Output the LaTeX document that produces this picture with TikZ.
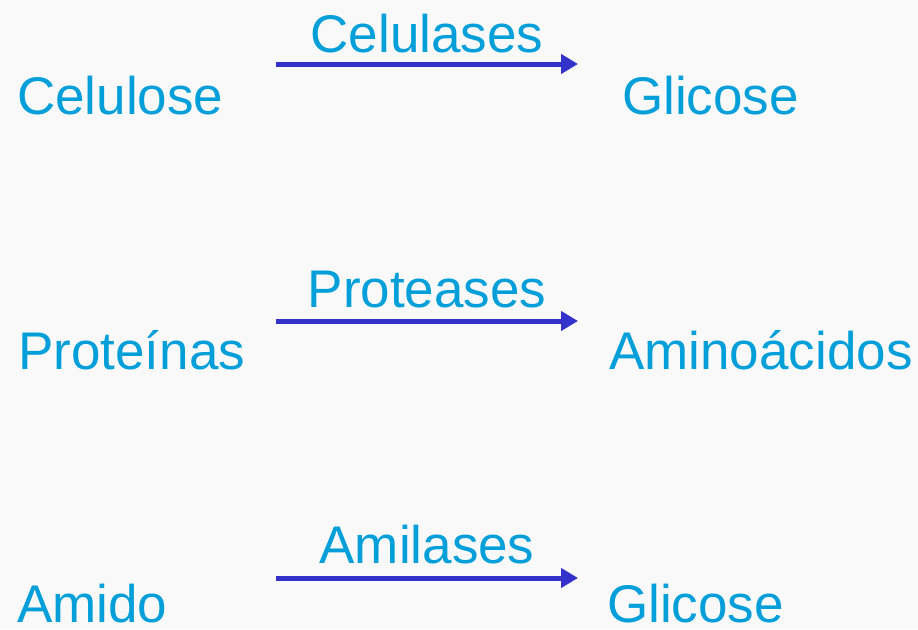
\documentclass[tikz,border=0pt]{standalone}
\usepackage{fontspec}
\setmainfont{Liberation Sans}
\usetikzlibrary{arrows.meta}

\definecolor{termblue}{HTML}{009FDA}
\definecolor{arrowblue}{HTML}{3333CC}
\definecolor{paper}{HTML}{F9F9F9}

\tikzset{
    term/.style={anchor=base west, inner sep=0pt, text=termblue,
        font=\fontsize{53}{60}\selectfont},
    enzyme/.style={anchor=base, inner sep=0pt, text=termblue,
        font=\fontsize{53}{60}\selectfont},
    reaction/.style={draw=arrowblue, line width=5pt,
        -{Triangle[length=17pt,width=19pt]}}
}

\begin{document}
\begin{tikzpicture}[x=1pt,y=-1pt]
    \fill [paper] (0, 0) rectangle (918, 629);
    \useasboundingbox (0, 0) rectangle (918, 629);

    \path (17, 114) node [term] (cel) {Celulose};
    \path (622, 114) node [term] (gli1) {Glicose};
    \coordinate (r1s) at (276, 64);
    \coordinate (r1e) at (578, 64);
    \draw [reaction] (r1s) -- (r1e)
	node[midway,enzyme,yshift=12pt] (cls) {Celulases};

    \path (18, 369) node [term] (pro) {Proteínas};
    \path (609, 369) node [term] (ami) {Aminoácidos};
    \coordinate (r2s) at (276, 321);
    \coordinate (r2e) at (578, 321);
    \draw [reaction] (r2s) -- (r2e)
	node[midway,enzyme,yshift=14pt] (prt) {Proteases};

    \path (17, 622) node [term] (amd) {Amido};
    \path (607, 622) node [term] (gli2) {Glicose};
    \coordinate (r3s) at (276, 578);
    \coordinate (r3e) at (578, 578);
    \draw [reaction] (r3s) -- (r3e)
	node[midway,enzyme,yshift=15pt] (aml) {Amilases};
\end{tikzpicture}
\end{document}
